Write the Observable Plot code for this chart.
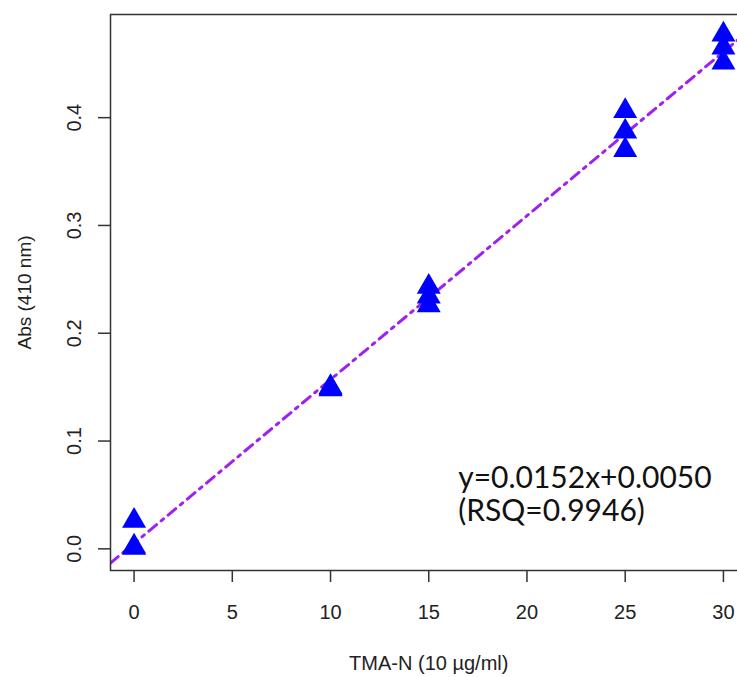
<!DOCTYPE html>
<html>
<head>
<meta charset="utf-8">
<script src="https://cdn.jsdelivr.net/npm/d3@7"></script>
<script src="https://cdn.jsdelivr.net/npm/@observablehq/plot@0.6"></script>
<style>
  html, body { margin: 0; padding: 0; background: #fff; overflow: hidden; }
  #chart svg { display: block; max-width: none !important; }
</style>
</head>
<body>
<div id="chart"></div>
<script>
// Data
const concentration = [0, 0, 0, 10, 10, 10, 15, 15, 15, 25, 25, 25, 30, 30, 30];
const absorbance = [0.026, 0.001, 0.002, 0.148, 0.149, 0.150, 0.243, 0.234, 0.226, 0.406, 0.387, 0.370, 0.477, 0.465, 0.451];
const fitCoefficients = [0.0152, 0.0050]; // slope, intercept
const xTicks = [0, 5, 10, 15, 20, 25, 30];
const yTicks = [0.0, 0.1, 0.2, 0.3, 0.4];
const annotationLines = ["y=0.0152x+0.0050", "(RSQ=0.9946)"];
const xTitle = "TMA-N (10 µg/ml)";
const yTitle = "Abs (410 nm)";

const xDomain = [-1.2, 31.2];
const yDomain = [-0.0201, 0.4957];

const points = concentration.map((x, i) => ({x, y: absorbance[i]}));
const fit = xDomain.map(x => ({x, y: fitCoefficients[0] * x + fitCoefficients[1]}));

const font = "'Liberation Sans', Arial, sans-serif";

const chart = Plot.plot({
  width: 760,
  height: 677,
  marginLeft: 110,
  marginRight: 13.5,
  marginTop: 14,
  marginBottom: 107,
  style: {fontFamily: font, fontSize: "20px", background: "#fff", maxWidth: "none"},
  x: {domain: xDomain, axis: null},
  y: {domain: yDomain, axis: null},
  marks: [
    Plot.line(fit, {x: "x", y: "y", stroke: "#A020F0", strokeWidth: 3, strokeDasharray: "10,6,3,6", clip: true}),
    Plot.dot(points, {x: "x", y: "y", symbol: "triangle", r: 8.9, fill: "#0000FF", stroke: "none"}),
    Plot.frame({stroke: "#333", strokeWidth: 1.5}),
    Plot.axisX(xTicks, {tickSize: 12, tickFormat: () => "", label: null, stroke: "#333", strokeWidth: 1.5}),
    Plot.axisY(yTicks, {tickSize: 12, tickFormat: () => "", label: null, stroke: "#333", strokeWidth: 1.5}),
    Plot.text(xTicks, {x: d => d, text: d => String(d), frameAnchor: "bottom", dy: 42, lineAnchor: "middle", textAnchor: "middle", fill: "#222", fontSize: 20}),
    Plot.text(yTicks, {y: d => d, text: d => d.toFixed(1), frameAnchor: "left", dx: -36, rotate: -90, lineAnchor: "middle", textAnchor: "middle", fill: "#222", fontSize: 20}),
    Plot.text([xTitle], {x: (xDomain[0] + xDomain[1]) / 2, text: d => d, frameAnchor: "bottom", dy: 93, lineAnchor: "middle", textAnchor: "middle", fill: "#222", fontSize: 20}),
    Plot.text([yTitle], {y: (yDomain[0] + yDomain[1]) / 2, text: d => d, frameAnchor: "left", dx: -86, rotate: -90, lineAnchor: "middle", textAnchor: "middle", fill: "#222", fontSize: 19}),
    ...annotationLines.map((t, i) => Plot.text([t], {x: 16.5, y: 0.0565, text: d => d, dy: i * 33, textAnchor: "start", lineAnchor: "bottom", fill: "#111", fontFamily: "Lato, 'Open Sans', sans-serif", fontSize: 30}))
  ]
});
document.getElementById("chart").appendChild(chart);
</script>
</body>
</html>
